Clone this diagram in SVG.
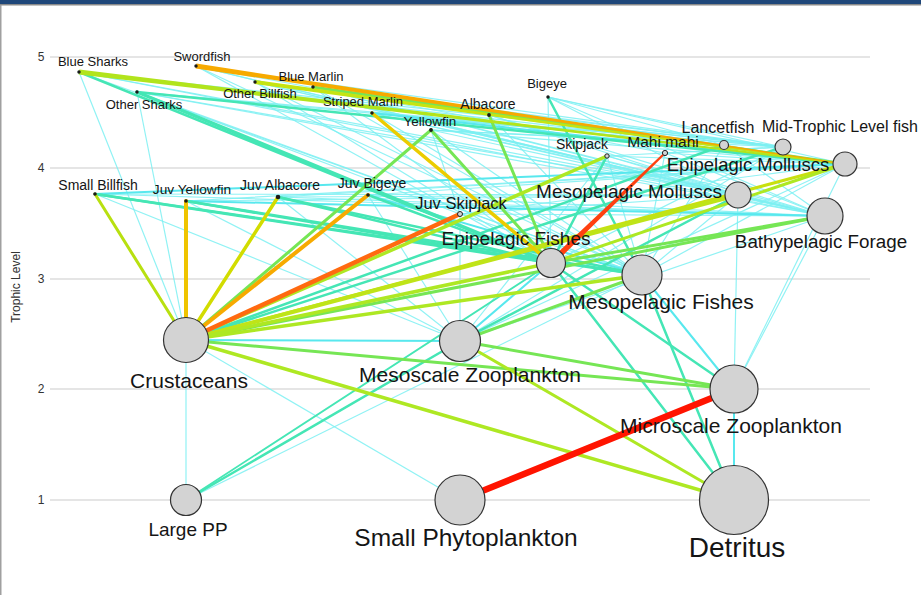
<svg xmlns="http://www.w3.org/2000/svg" width="921" height="595" viewBox="0 0 921 595">
<style>
text{font-family:"Liberation Sans",Arial,Helvetica,sans-serif;fill:#151515}
.lab{text-anchor:middle}
.ax{font-size:12px;fill:#333;text-anchor:middle}
.grid line{stroke:#dcdcdc;stroke-width:1.5}
#edges line{stroke-linecap:round;fill:none}
.c1{stroke:#7df0f2;stroke-width:1.2;opacity:.85}
.c2{stroke:#58e8ee;stroke-width:2}
.t{stroke:#45e6b5;stroke-width:2.5}
.g{stroke:#76e655;stroke-width:3}
.yg{stroke:#aee823;stroke-width:3.5}
.y{stroke:#d2dc00;stroke-width:3.5}
.gd{stroke:#efc400;stroke-width:4}
.or{stroke:#f7aa00;stroke-width:4}
.orr{stroke:#ff6a10;stroke-width:4.5}
.rd{stroke:#ff1400;stroke-width:6.5}
.big{fill:#d3d3d3;stroke:#333;stroke-width:1.2}
.dot{fill:#1a1a1a}
.sm{fill:#d3d3d3;stroke:#222;stroke-width:1}
</style>
<rect x="0" y="0" width="921" height="595" fill="#ffffff"/>
<rect x="0" y="0" width="921" height="4" fill="#1f477a"/>
<rect x="0" y="4" width="921" height="1.5" fill="#8a8a8a"/>
<rect x="0" y="5" width="1.5" height="590" fill="#a0a0a0"/>
<g class="grid">
<line x1="50" y1="57" x2="870" y2="57"/>
<line x1="50" y1="168" x2="870" y2="168"/>
<line x1="50" y1="279" x2="870" y2="279"/>
<line x1="50" y1="389" x2="870" y2="389"/>
<line x1="50" y1="500" x2="870" y2="500"/>
</g>
<g id="axis">
<text class="ax" x="41" y="61">5</text>
<text class="ax" x="41" y="172">4</text>
<text class="ax" x="41" y="283">3</text>
<text class="ax" x="41" y="393">2</text>
<text class="ax" x="41" y="504">1</text>
<text class="ax" transform="translate(20,287) rotate(-90)">Trophic Level</text>
</g>
<g id="edges">
<line class="c1" x1="79" y1="72" x2="783" y2="147"/>
<line class="c1" x1="79" y1="72" x2="724" y2="145"/>
<line class="c1" x1="79" y1="72" x2="738" y2="195"/>
<line class="c1" x1="79" y1="72" x2="825" y2="216"/>
<line class="c1" x1="79" y1="72" x2="642" y2="275"/>
<line class="c1" x1="79" y1="72" x2="186" y2="340"/>
<line class="c1" x1="196" y1="66" x2="783" y2="147"/>
<line class="c1" x1="196" y1="66" x2="724" y2="145"/>
<line class="c1" x1="196" y1="66" x2="738" y2="195"/>
<line class="c1" x1="196" y1="66" x2="825" y2="216"/>
<line class="c1" x1="196" y1="66" x2="551" y2="263"/>
<line class="c1" x1="196" y1="66" x2="642" y2="275"/>
<line class="c1" x1="196" y1="66" x2="665" y2="153"/>
<line class="c1" x1="255" y1="82" x2="783" y2="147"/>
<line class="c1" x1="255" y1="82" x2="724" y2="145"/>
<line class="c1" x1="255" y1="82" x2="738" y2="195"/>
<line class="c1" x1="255" y1="82" x2="825" y2="216"/>
<line class="c1" x1="255" y1="82" x2="551" y2="263"/>
<line class="c1" x1="255" y1="82" x2="642" y2="275"/>
<line class="c1" x1="313" y1="87" x2="783" y2="147"/>
<line class="c1" x1="313" y1="87" x2="724" y2="145"/>
<line class="c1" x1="313" y1="87" x2="738" y2="195"/>
<line class="c1" x1="313" y1="87" x2="825" y2="216"/>
<line class="c1" x1="313" y1="87" x2="551" y2="263"/>
<line class="c1" x1="313" y1="87" x2="642" y2="275"/>
<line class="c1" x1="137" y1="92" x2="783" y2="147"/>
<line class="c1" x1="137" y1="92" x2="724" y2="145"/>
<line class="c1" x1="137" y1="92" x2="738" y2="195"/>
<line class="c1" x1="137" y1="92" x2="825" y2="216"/>
<line class="c1" x1="137" y1="92" x2="642" y2="275"/>
<line class="c1" x1="137" y1="92" x2="186" y2="340"/>
<line class="c1" x1="137" y1="92" x2="460" y2="214"/>
<line class="c1" x1="372" y1="113" x2="783" y2="147"/>
<line class="c1" x1="372" y1="113" x2="724" y2="145"/>
<line class="c1" x1="372" y1="113" x2="738" y2="195"/>
<line class="c1" x1="372" y1="113" x2="825" y2="216"/>
<line class="c1" x1="372" y1="113" x2="642" y2="275"/>
<line class="c1" x1="431" y1="130" x2="783" y2="147"/>
<line class="c1" x1="431" y1="130" x2="724" y2="145"/>
<line class="c1" x1="431" y1="130" x2="845" y2="164"/>
<line class="c1" x1="431" y1="130" x2="825" y2="216"/>
<line class="c1" x1="431" y1="130" x2="642" y2="275"/>
<line class="c1" x1="431" y1="130" x2="460" y2="214"/>
<line class="c1" x1="489" y1="115" x2="783" y2="147"/>
<line class="c1" x1="489" y1="115" x2="724" y2="145"/>
<line class="c1" x1="489" y1="115" x2="845" y2="164"/>
<line class="c1" x1="489" y1="115" x2="825" y2="216"/>
<line class="c1" x1="489" y1="115" x2="642" y2="275"/>
<line class="c1" x1="489" y1="115" x2="738" y2="195"/>
<line class="c1" x1="548" y1="97" x2="783" y2="147"/>
<line class="c1" x1="548" y1="97" x2="724" y2="145"/>
<line class="c1" x1="548" y1="97" x2="845" y2="164"/>
<line class="c1" x1="548" y1="97" x2="738" y2="195"/>
<line class="c1" x1="548" y1="97" x2="825" y2="216"/>
<line class="c1" x1="548" y1="97" x2="551" y2="263"/>
<line class="c1" x1="607" y1="156" x2="783" y2="147"/>
<line class="c1" x1="607" y1="156" x2="845" y2="164"/>
<line class="c1" x1="607" y1="156" x2="738" y2="195"/>
<line class="c1" x1="607" y1="156" x2="825" y2="216"/>
<line class="c1" x1="607" y1="156" x2="642" y2="275"/>
<line class="c1" x1="607" y1="156" x2="460" y2="341"/>
<line class="c1" x1="665" y1="153" x2="845" y2="164"/>
<line class="c1" x1="665" y1="153" x2="783" y2="147"/>
<line class="c1" x1="665" y1="153" x2="642" y2="275"/>
<line class="c1" x1="665" y1="153" x2="825" y2="216"/>
<line class="c1" x1="724" y1="145" x2="845" y2="164"/>
<line class="c1" x1="724" y1="145" x2="642" y2="275"/>
<line class="c1" x1="724" y1="145" x2="825" y2="216"/>
<line class="c1" x1="783" y1="147" x2="460" y2="341"/>
<line class="c1" x1="783" y1="147" x2="551" y2="263"/>
<line class="c1" x1="460" y1="214" x2="845" y2="164"/>
<line class="c1" x1="460" y1="214" x2="738" y2="195"/>
<line class="c1" x1="460" y1="214" x2="642" y2="275"/>
<line class="c1" x1="460" y1="214" x2="460" y2="341"/>
<line class="c1" x1="460" y1="214" x2="825" y2="216"/>
<line class="c1" x1="95" y1="194" x2="738" y2="195"/>
<line class="c1" x1="95" y1="194" x2="825" y2="216"/>
<line class="c1" x1="95" y1="194" x2="460" y2="341"/>
<line class="c1" x1="186" y1="201" x2="738" y2="195"/>
<line class="c1" x1="186" y1="201" x2="845" y2="164"/>
<line class="c1" x1="186" y1="201" x2="460" y2="341"/>
<line class="c1" x1="278" y1="197" x2="738" y2="195"/>
<line class="c1" x1="278" y1="197" x2="845" y2="164"/>
<line class="c1" x1="278" y1="197" x2="825" y2="216"/>
<line class="c1" x1="278" y1="197" x2="460" y2="341"/>
<line class="c1" x1="368" y1="195" x2="845" y2="164"/>
<line class="c1" x1="368" y1="195" x2="825" y2="216"/>
<line class="c1" x1="368" y1="195" x2="460" y2="341"/>
<line class="c1" x1="825" y1="216" x2="460" y2="341"/>
<line class="c1" x1="845" y1="164" x2="460" y2="341"/>
<line class="c1" x1="825" y1="216" x2="734" y2="389"/>
<line class="c1" x1="845" y1="164" x2="734" y2="389"/>
<line class="c1" x1="738" y1="195" x2="734" y2="389"/>
<line class="c1" x1="186" y1="340" x2="460" y2="500"/>
<line class="c1" x1="186" y1="340" x2="186" y2="500"/>
<line class="c1" x1="186" y1="500" x2="642" y2="275"/>
<line class="c1" x1="845" y1="164" x2="642" y2="275"/>
<line class="c1" x1="738" y1="195" x2="642" y2="275"/>
<line class="c2" x1="372" y1="113" x2="845" y2="164"/>
<line class="c2" x1="186" y1="340" x2="460" y2="341"/>
<line class="c2" x1="551" y1="263" x2="460" y2="341"/>
<line class="c2" x1="734" y1="389" x2="734" y2="500"/>
<line class="c2" x1="642" y1="275" x2="734" y2="389"/>
<line class="c2" x1="368" y1="195" x2="642" y2="275"/>
<line class="c2" x1="95" y1="194" x2="845" y2="164"/>
<line class="c2" x1="186" y1="201" x2="825" y2="216"/>
<line class="t" x1="79" y1="72" x2="551" y2="263"/>
<line class="t" x1="137" y1="92" x2="551" y2="263" style="stroke-width:3.5"/>
<line class="t" x1="137" y1="92" x2="845" y2="164"/>
<line class="t" x1="548" y1="97" x2="642" y2="275"/>
<line class="t" x1="783" y1="147" x2="186" y2="340"/>
<line class="t" x1="724" y1="145" x2="186" y2="340"/>
<line class="t" x1="551" y1="263" x2="734" y2="500"/>
<line class="t" x1="642" y1="275" x2="734" y2="500"/>
<line class="t" x1="186" y1="500" x2="460" y2="341"/>
<line class="t" x1="186" y1="500" x2="551" y2="263" style="stroke-width:1.8"/>
<line class="t" x1="95" y1="194" x2="551" y2="263"/>
<line class="t" x1="95" y1="194" x2="642" y2="275"/>
<line class="t" x1="186" y1="201" x2="551" y2="263"/>
<line class="t" x1="186" y1="201" x2="642" y2="275"/>
<line class="t" x1="278" y1="197" x2="551" y2="263"/>
<line class="t" x1="278" y1="197" x2="642" y2="275"/>
<line class="t" x1="368" y1="195" x2="551" y2="263"/>
<line class="t" x1="738" y1="195" x2="460" y2="341"/>
<line class="t" x1="551" y1="263" x2="734" y2="389"/>
<line class="t" x1="607" y1="156" x2="551" y2="263"/>
<line class="g" x1="313" y1="87" x2="845" y2="164"/>
<line class="g" x1="431" y1="130" x2="186" y2="340"/>
<line class="g" x1="431" y1="130" x2="551" y2="263"/>
<line class="g" x1="489" y1="115" x2="551" y2="263"/>
<line class="g" x1="825" y1="216" x2="186" y2="340"/>
<line class="g" x1="825" y1="216" x2="551" y2="263"/>
<line class="g" x1="642" y1="275" x2="460" y2="341"/>
<line class="g" x1="460" y1="341" x2="734" y2="389"/>
<line class="g" x1="186" y1="340" x2="734" y2="389"/>
<polygon points="79.3,69.52 845.09,163.26 844.91,164.74 78.7,74.48" fill="#b2e41c"/>
<polygon points="255.28,80.02 845.07,163.5 844.93,164.5 254.72,83.98" fill="#c6e412"/>
<line class="yg" x1="607" y1="156" x2="186" y2="340"/>
<line class="yg" x1="845" y1="164" x2="186" y2="340" style="stroke:#c8e010;stroke-width:3"/>
<line class="yg" x1="738" y1="195" x2="186" y2="340" style="stroke:#bfe418;stroke-width:4"/>
<line class="yg" x1="642" y1="275" x2="186" y2="340"/>
<line class="yg" x1="551" y1="263" x2="186" y2="340"/>
<line class="yg" x1="845" y1="164" x2="551" y2="263" style="stroke-width:3"/>
<line class="yg" x1="460" y1="341" x2="734" y2="500" style="stroke-width:3"/>
<line class="yg" x1="186" y1="340" x2="734" y2="500"/>
<line class="yg" x1="186" y1="340" x2="95" y2="194" style="stroke:#b8e010;stroke-width:3"/>
<line class="y" x1="186" y1="340" x2="278" y2="197"/>
<line class="gd" x1="186" y1="340" x2="186" y2="201"/>
<line class="gd" x1="372" y1="113" x2="551" y2="263" style="stroke:#ebcc00;stroke-width:3.5"/>
<line class="or" x1="186" y1="340" x2="368" y2="195"/>
<polygon points="196.37,63.53 845.07,163.51 844.93,164.49 195.63,68.47" fill="#f7aa00"/>
<line class="orr" x1="186" y1="340" x2="460" y2="214"/>
<polygon points="553.08,265.16 665.69,153.72 664.31,152.28 548.92,260.84" fill="#ff4010"/>
<line class="rd" x1="460" y1="500" x2="734" y2="389"/>
</g>
<g id="n-blue-sharks"><circle class="dot" cx="79" cy="72" r="1.7"/><text class="lab" x="93" y="66" font-size="13">Blue Sharks</text></g>
<g id="n-swordfish"><circle class="dot" cx="196" cy="66" r="1.7"/><text class="lab" x="202" y="61" font-size="13">Swordfish</text></g>
<g id="n-other-billfish"><circle class="dot" cx="255" cy="82" r="1.7"/><text class="lab" x="260" y="98" font-size="13">Other Billfish</text></g>
<g id="n-blue-marlin"><circle class="dot" cx="313" cy="87" r="1.7"/><text class="lab" x="311" y="81" font-size="13">Blue Marlin</text></g>
<g id="n-other-sharks"><circle class="dot" cx="137" cy="92" r="1.7"/><text class="lab" x="144" y="109" font-size="13">Other Sharks</text></g>
<g id="n-striped-marlin"><circle class="dot" cx="372" cy="113" r="1.7"/><text class="lab" x="363" y="106" font-size="13">Striped Marlin</text></g>
<g id="n-yellowfin"><circle class="dot" cx="431" cy="130" r="1.9"/><text class="lab" x="430" y="126" font-size="13.5">Yellowfin</text></g>
<g id="n-albacore"><circle class="dot" cx="489" cy="115" r="1.9"/><text class="lab" x="488" y="109" font-size="14">Albacore</text></g>
<g id="n-bigeye"><circle class="dot" cx="548" cy="97" r="1.7"/><text class="lab" x="547" y="88" font-size="13">Bigeye</text></g>
<g id="n-skipjack"><circle class="sm" cx="607" cy="156" r="2.2"/><text class="lab" x="582" y="149" font-size="14">Skipjack</text></g>
<g id="n-mahi-mahi"><circle class="sm" cx="665" cy="153" r="2.6"/><text class="lab" x="663" y="147" font-size="15.5">Mahi mahi</text></g>
<g id="n-lancetfish"><circle class="big" cx="724" cy="145" r="4.5"/><text class="lab" x="718" y="133" font-size="16">Lancetfish</text></g>
<g id="n-mid-trophic"><circle class="big" cx="783" cy="147" r="8"/><text x="762" y="132" font-size="16">Mid-Trophic Level fish</text></g>
<g id="n-epi-molluscs"><circle class="big" cx="845" cy="164" r="12"/><text class="lab" x="748" y="171" font-size="18.5">Epipelagic Molluscs</text></g>
<g id="n-meso-molluscs"><circle class="big" cx="738" cy="195" r="13"/><text class="lab" x="629" y="198" font-size="19">Mesopelagic Molluscs</text></g>
<g id="n-bathy-forage"><circle class="big" cx="825" cy="216" r="18"/><text class="lab" x="821" y="248" font-size="18.8">Bathypelagic Forage</text></g>
<g id="n-epi-fishes"><circle class="big" cx="551" cy="263" r="14.5"/><text class="lab" x="516" y="245" font-size="19">Epipelagic Fishes</text></g>
<g id="n-meso-fishes"><circle class="big" cx="642" cy="275" r="20"/><text class="lab" x="661" y="309" font-size="21">Mesopelagic Fishes</text></g>
<g id="n-juv-skipjack"><circle class="sm" cx="460" cy="214" r="2.5"/><text class="lab" x="461" y="209" font-size="16.5">Juv Skipjack</text></g>
<g id="n-juv-bigeye"><circle class="dot" cx="368" cy="195" r="1.8"/><text class="lab" x="372" y="188" font-size="14">Juv Bigeye</text></g>
<g id="n-juv-albacore"><circle class="dot" cx="278" cy="197" r="2.3"/><text class="lab" x="280" y="190" font-size="14">Juv Albacore</text></g>
<g id="n-juv-yellowfin"><circle class="dot" cx="186" cy="201" r="1.8"/><text class="lab" x="192" y="194" font-size="13.7">Juv Yellowfin</text></g>
<g id="n-small-billfish"><circle class="dot" cx="95" cy="194" r="1.8"/><text class="lab" x="98" y="190" font-size="14">Small Billfish</text></g>
<g id="n-crustaceans"><circle class="big" cx="186" cy="340" r="22.5"/><text class="lab" x="189" y="388" font-size="21">Crustaceans</text></g>
<g id="n-mesoscale-zoo"><circle class="big" cx="460" cy="341" r="20.5"/><text class="lab" x="470" y="382" font-size="21">Mesoscale Zooplankton</text></g>
<g id="n-microscale-zoo"><circle class="big" cx="734" cy="389" r="24"/><text class="lab" x="731" y="433" font-size="21">Microscale Zooplankton</text></g>
<g id="n-large-pp"><circle class="big" cx="186" cy="500" r="15.5"/><text class="lab" x="188" y="536" font-size="19">Large PP</text></g>
<g id="n-small-phyto"><circle class="big" cx="460" cy="500" r="25"/><text class="lab" x="466" y="546" font-size="24.5">Small Phytoplankton</text></g>
<g id="n-detritus"><circle class="big" cx="734" cy="500" r="34.5"/><text class="lab" x="737" y="557" font-size="28">Detritus</text></g>
</svg>
